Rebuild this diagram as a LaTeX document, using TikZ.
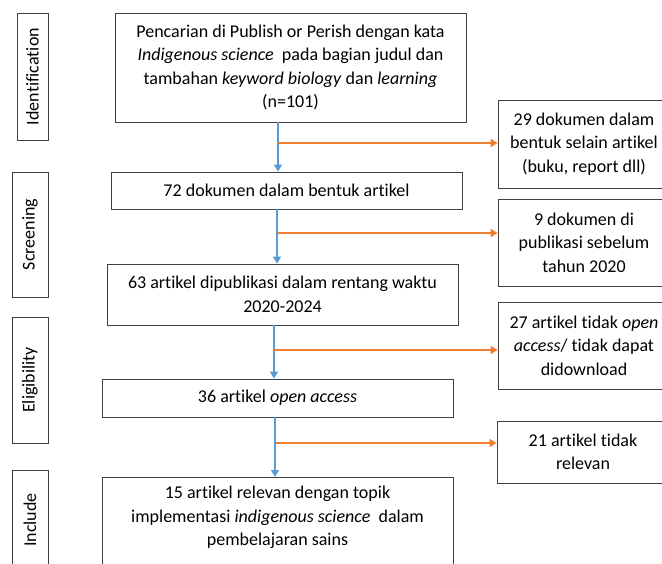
\documentclass[tikz,border=0pt]{standalone}
\usepackage{fontspec}
\setmainfont{Carlito}[Ligatures=NoCommon]
\usetikzlibrary{arrows.meta}

\definecolor{flowblue}{RGB}{91,155,213}
\definecolor{floworange}{RGB}{237,125,49}

\begin{document}
\begin{tikzpicture}[x=1pt, y=-1pt,
    font=\fontsize{18}{23.5}\selectfont,
    main/.style = {draw=black!75, line width=0.8pt, rectangle, align=center, inner sep=0pt},
    stage/.style = {main, rotate=90},
    flow/.style = {draw=flowblue, line width=1.5pt, -{Triangle[width=8pt,length=7pt]}},
    skip/.style = {draw=floworange, line width=1.5pt, -{Triangle[width=8pt,length=7pt]}}]

    \useasboundingbox (0,0) rectangle (662,563);
    \clip (0,0) rectangle (662,563);

    % Tahapan (kolom kiri)
    \node[stage, minimum width=127pt, minimum height=31pt] (ident) at (32.5,76.5) {Identification};
    \node[stage, minimum width=125pt, minimum height=36pt] (screen) at (30,234.5) {Screening};
    \node[stage, minimum width=126pt, minimum height=36pt] (elig) at (30,380) {Eligibility};
    \node[stage, minimum width=100pt, minimum height=36pt] (incl) at (30,520) {Include};

    % Alur utama
    \node[main, minimum width=351pt, minimum height=109pt] (search) at (290.5,67.5) {Pencarian di Publish or Perish dengan kata\\ \textit{Indigenous science}\ \ pada bagian judul dan\\ tambahan \textit{keyword biology} dan \textit{learning}\\ (n=101)};
    \node[main, minimum width=351pt, minimum height=37pt] (docs) at (286.5,190.5) {72 dokumen dalam bentuk artikel};
    \node[main, minimum width=351pt, minimum height=61pt] (year) at (282.5,294.5) {63 artikel dipublikasi dalam rentang waktu\\ 2020-2024};
    \node[main, minimum width=351pt, minimum height=38pt] (open) at (277.5,398) {36 artikel \textit{open access}};
    \node[main, minimum width=351pt, anchor=north, inner ysep=9pt, text depth=60pt] (final) at (277.5,477) {15 artikel relevan dengan topik\\ implementasi \textit{indigenous science}\ \ dalam\\ pembelajaran sains};

    % Dokumen yang dikeluarkan (kolom kanan)
    \node[main, minimum width=172pt, minimum height=88pt] (other) at (584,144) {29 dokumen dalam\\ bentuk selain artikel\\ (buku, report dll)};
    \node[main, minimum width=172pt, minimum height=87pt] (before) at (584,242.5) {9 dokumen di\\ publikasi sebelum\\ tahun 2020};
    \node[main, minimum width=172pt, minimum height=87pt] (closed) at (584,345.5) {27 artikel tidak \textit{open}\\ \textit{access}/ tidak dapat\\ didownload};
    \node[main, minimum width=172pt, minimum height=62pt] (irrelevant) at (583,452) {21 artikel tidak\\ relevan};

    % Titik cabang
    \coordinate (j1) at (278,143);
    \coordinate (j2) at (277,233);
    \coordinate (j3) at (274,350);
    \coordinate (j4) at (275,443);

    % Panah
    \draw[flow] (j1 |- search.south) -- (j1 |- docs.north);
    \draw[skip] (j1) -- (j1 -| other.west);
    \draw[flow] (j2 |- docs.south) -- (j2 |- year.north);
    \draw[skip] (j2) -- (j2 -| before.west);
    \draw[flow] (j3 |- year.south) -- (j3 |- open.north);
    \draw[skip] (j3) -- (j3 -| closed.west);
    \draw[flow] (j4 |- open.south) -- (j4 |- final.north);
    \draw[skip] (j4) -- (j4 -| irrelevant.west);

\end{tikzpicture}
\end{document}
